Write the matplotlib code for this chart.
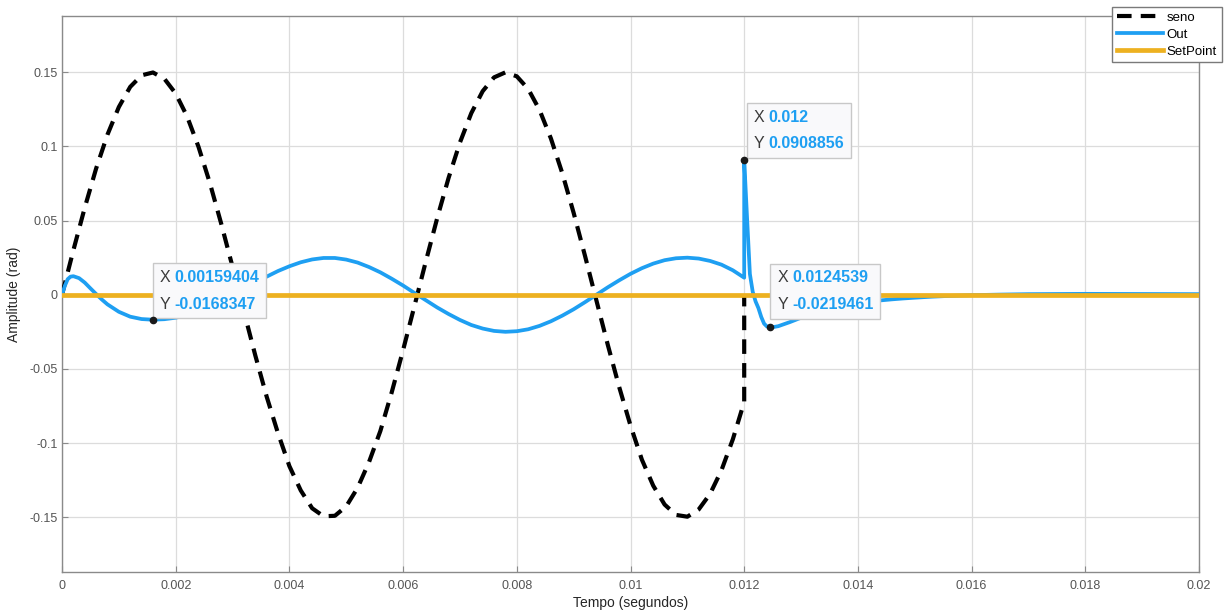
import numpy as np
import matplotlib
matplotlib.use("Agg")
import matplotlib.pyplot as plt
from matplotlib.offsetbox import TextArea, HPacker, VPacker, AnnotationBbox
from matplotlib.ticker import FuncFormatter

plt.rcParams['font.family'] = ['Liberation Sans', 'DejaVu Sans']

# ---------------- data ----------------
seno_step = 0.0002
seno_vals = [0.0, 0.0300, 0.0587, 0.0851, 0.1080, 0.1266, 0.1402, 0.1480, 0.1499, 0.1457,
             0.1357, 0.1203, 0.0999, 0.0755, 0.0480, 0.0188, -0.0113, -0.0409, -0.0687, -0.0935,
             -0.1156, -0.1320, -0.1440, -0.1494, -0.1491, -0.1427, -0.1302, -0.1129, -0.0919, -0.0658,
             -0.0373, -0.0075, 0.0225, 0.0517, 0.0788, 0.1027, 0.1225, 0.1373, 0.1466, 0.1500,
             0.1473, 0.1388, 0.1246, 0.1054, 0.0820, 0.0552, 0.0262, -0.0038, -0.0337, -0.0621,
             -0.0882, -0.1112, -0.1288, -0.1415, -0.1485, -0.1497, -0.1448, -0.1343, -0.1184, -0.0975,
             -0.0723]
seno_after_t = [0.012]
seno_after_v = [0.0]

out_t = [0.0, 0.00005, 0.0001, 0.00015, 0.0002, 0.0003, 0.0004, 0.0005, 0.0006, 0.0007,
         0.0008, 0.0010, 0.0012, 0.0014, 0.00159404, 0.0018, 0.0020, 0.0022, 0.0024, 0.0026,
         0.0028, 0.0030, 0.0032, 0.0034, 0.0036, 0.0038, 0.0040, 0.0042, 0.0044, 0.0046,
         0.0048, 0.0050, 0.0052, 0.0054, 0.0056, 0.0058, 0.0060, 0.0062, 0.0064, 0.0066,
         0.0068, 0.0070, 0.0072, 0.0074, 0.0076, 0.0078, 0.0080, 0.0082, 0.0084, 0.0086,
         0.0088, 0.0090, 0.0092, 0.0094, 0.0096, 0.0098, 0.0100, 0.0102, 0.0104, 0.0106,
         0.0108, 0.0110, 0.0112, 0.0114, 0.0116, 0.0118, 0.0120, 0.0120, 0.01205, 0.0121,
         0.01215, 0.0122, 0.01225, 0.0123, 0.01235, 0.0124, 0.0124539, 0.0125, 0.0126, 0.0128,
         0.0130, 0.0132, 0.0134, 0.0136, 0.0138, 0.0140, 0.0142, 0.0144, 0.0146, 0.0148,
         0.0150, 0.0153, 0.0156, 0.0160, 0.0165, 0.0170, 0.0175, 0.0180, 0.0190, 0.0200]
out_v = [0.0, 0.0060, 0.0105, 0.0122, 0.0125, 0.0112, 0.0082, 0.0043, 0.0005, -0.0032,
         -0.0065, -0.0115, -0.0148, -0.0164, -0.0168347, -0.0165, -0.0155, -0.0137, -0.0112, -0.0082,
         -0.0045, -0.0005, 0.0038, 0.0080, 0.0122, 0.0160, 0.0192, 0.0219, 0.0238, 0.0248,
         0.0248, 0.0237, 0.0217, 0.0187, 0.0151, 0.0108, 0.0062, 0.0012, -0.0037, -0.0086,
         -0.0130, -0.0170, -0.0204, -0.0228, -0.0244, -0.0250, -0.0246, -0.0233, -0.0210, -0.0179,
         -0.0141, -0.0098, -0.0050, 0.0000, 0.0050, 0.0097, 0.0141, 0.0179, 0.0210, 0.0233,
         0.0246, 0.0250, 0.0244, 0.0228, 0.0203, 0.0165, 0.0115, 0.0908856, 0.0520, 0.0140,
         0.0020, -0.0045, -0.0090, -0.0150, -0.0195, -0.0214, -0.0219461, -0.0219, -0.0212, -0.0185,
         -0.0155, -0.0128, -0.0106, -0.0087, -0.0071, -0.0058, -0.0047, -0.0038, -0.0031, -0.0025,
         -0.0020, -0.0013, -0.0008, -0.0003, 0.0001, 0.0004, 0.0005, 0.0006, 0.0005, 0.0004]

setpoint_t = [0.0, 0.02]
setpoint_v = [0.0, 0.0]

tips_x = [0.00159404, 0.012, 0.0124539]
tips_y = [-0.0168347, 0.0908856, -0.0219461]
tips_xlabel = ["0.00159404", "0.012", "0.0124539"]
tips_ylabel = ["-0.0168347", "0.0908856", "-0.0219461"]

xticks = [0, 0.002, 0.004, 0.006, 0.008, 0.01, 0.012, 0.014, 0.016, 0.018, 0.02]
yticks = [-0.15, -0.1, -0.05, 0, 0.05, 0.1, 0.15]

# ---------------- style ----------------
C_BLACK = '#000000'
C_BLUE = '#1E9FF2'
C_YELLOW = '#EDB120'
C_GRID = '#DCDCDC'
C_AXIS = '#8A8A8A'
C_TICK = '#555555'

fig = plt.figure(figsize=(12.32, 6.12), dpi=100)
ax = fig.add_axes([62/1232, 40/612, 1137/1232, 556/612])

seno_t = np.arange(len(seno_vals)) * seno_step
t_all = np.concatenate([seno_t, seno_after_t])
v_all = np.concatenate([seno_vals, seno_after_v])
l1, = ax.plot(t_all, v_all, color=C_BLACK, lw=3.0, linestyle=(0, (3.5, 2.2)),
              label='seno', zorder=3, solid_joinstyle='round', dash_capstyle='butt')
l2, = ax.plot(out_t, out_v, color=C_BLUE, lw=2.7, label='Out', zorder=4,
              solid_joinstyle='round')
l3, = ax.plot(setpoint_t, setpoint_v, color=C_YELLOW, lw=3.4, label='SetPoint', zorder=5)

ax.set_xlim(0, 0.02)
ax.set_ylim(-0.187, 0.188)
ax.set_xticks(xticks)
ax.set_yticks(yticks)
fmt = FuncFormatter(lambda v, p: ('%g' % round(v, 6)))
ax.xaxis.set_major_formatter(fmt)
ax.yaxis.set_major_formatter(fmt)
ax.grid(True, color=C_GRID, linewidth=0.9)
ax.set_axisbelow(True)
for s in ax.spines.values():
    s.set_color(C_AXIS)
    s.set_linewidth(1.0)
ax.tick_params(direction='in', length=4, width=0.8, color=C_AXIS, labelcolor=C_TICK,
               labelsize=9, top=False, right=False)
ax.tick_params(axis='x', pad=6)
ax.tick_params(axis='y', pad=3)
ax.set_xlabel('Tempo (segundos)', fontsize=10, color='#262626', labelpad=3)
ax.set_ylabel('Amplitude (rad)', fontsize=10, color='#262626', labelpad=6)

# data tips
ax.plot(tips_x, tips_y, 'o', color='#1a1a1a', ms=4.5, zorder=11, mec='#1a1a1a')
tip_offsets = [(5.0, 5.9), (6.7, 6.3), (5.2, 11.3)]
for x, y, xs, ys, off in zip(tips_x, tips_y, tips_xlabel, tips_ylabel, tip_offsets):
    rows = []
    for lab, val in (("X", xs), ("Y", ys)):
        ta1 = TextArea(lab, textprops=dict(color='#3a3a3a', fontsize=11.5))
        ta2 = TextArea(val, textprops=dict(color=C_BLUE, fontsize=11.5, fontweight='bold'))
        rows.append(HPacker(children=[ta1, ta2], align='baseline', pad=0, sep=3))
    box = VPacker(children=rows, align='left', pad=0, sep=8)
    ab = AnnotationBbox(box, (x, y), xybox=off, xycoords='data', boxcoords='offset points',
                        box_alignment=(0, 0), frameon=True, pad=0.45,
                        bboxprops=dict(facecolor='#F9F9FB', edgecolor='#C8C8C8', linewidth=1.0,
                                       boxstyle='square,pad=0.5'))
    ab.set_zorder(10)
    ax.add_artist(ab)

leg = fig.legend(handles=[l1, l2, l3], loc='upper left',
                 bbox_to_anchor=(1112/1232, 1 - 7/612), fontsize=9.5,
                 frameon=True, fancybox=False, framealpha=1, edgecolor='#7a7a7a',
                 handlelength=3.5, handletextpad=0.3, borderpad=0.35, labelspacing=0.35,
                 borderaxespad=0)
leg.get_frame().set_linewidth(1.0)

fig.savefig('out.png', dpi=100)
